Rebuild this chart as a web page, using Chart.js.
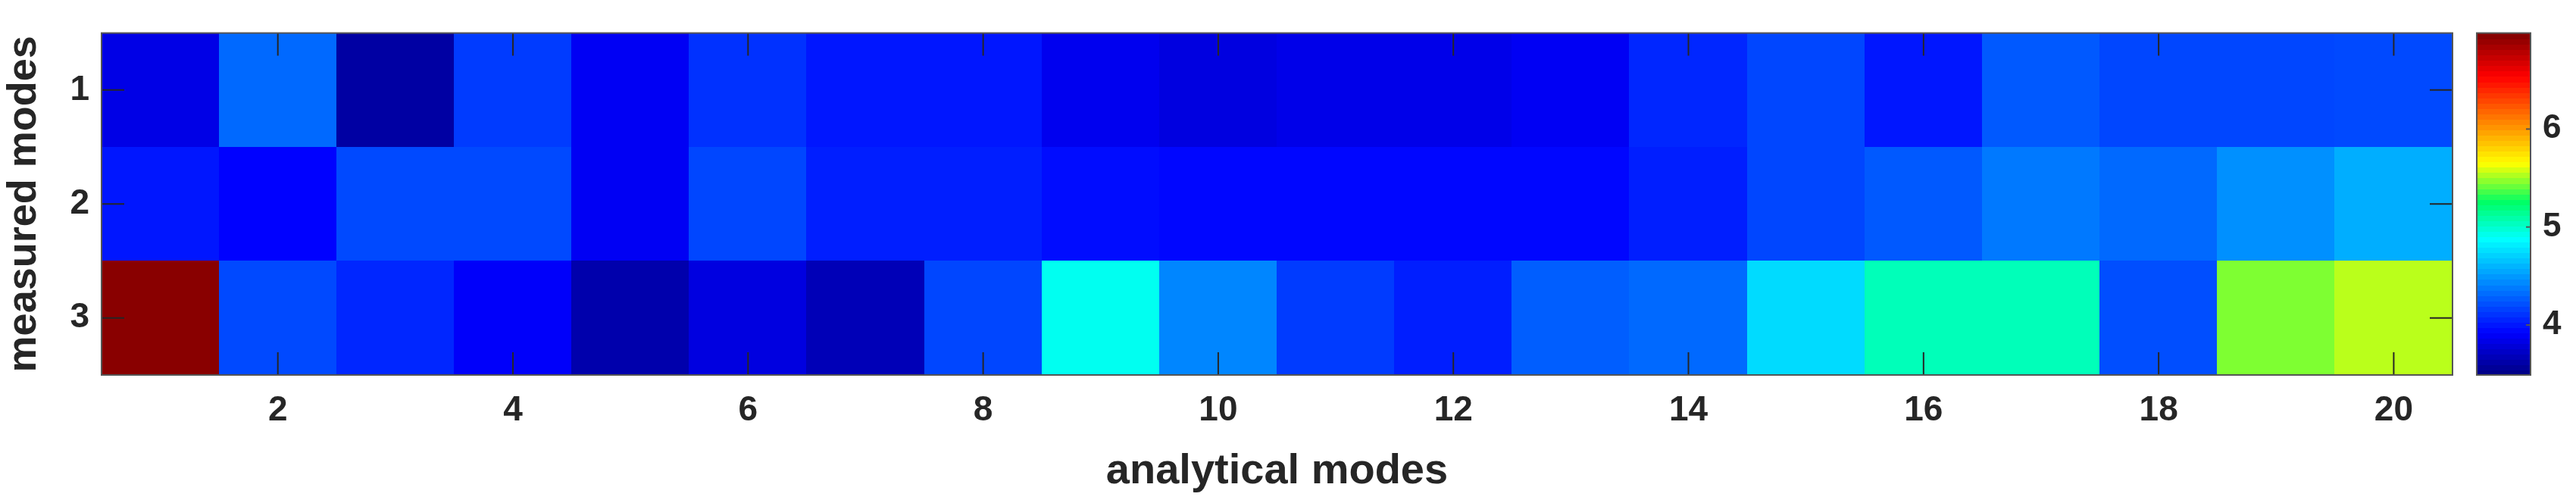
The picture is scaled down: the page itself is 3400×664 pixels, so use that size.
<!DOCTYPE html>
<html><head><meta charset="utf-8">
<script src="https://cdn.jsdelivr.net/npm/chart.js@4"></script>
<style>html,body{margin:0;padding:0;background:#fff}#w{width:3400px;height:664px}</style>
</head><body><div id="w"><canvas id="c"></canvas></div>
<script>
const analyticalModes = [1,2,3,4,5,6,7,8,9,10,11,12,13,14,15,16,17,18,19,20];
const measuredModes = [1,2,3];
const row1 = [3.84,4.32,3.61,4.15,3.89,4.11,4.01,4.01,3.87,3.82,3.85,3.85,3.89,4.07,4.19,4.01,4.26,4.19,4.19,4.20];
const row2 = [4.01,3.93,4.20,4.20,3.89,4.19,4.04,4.04,3.97,3.95,3.95,3.95,3.95,4.04,4.19,4.26,4.38,4.32,4.47,4.58];
const row3 = [6.95,4.20,4.07,3.91,3.64,3.82,3.68,4.19,4.92,4.43,4.15,4.04,4.28,4.32,4.75,5.06,5.06,4.22,5.46,5.55];
const xTicks = [2,4,6,8,10,12,14,16,18,20];
const yTicks = [1,2,3];
const cbTicks = [4,5,6];
const cMin = 3.49, cMax = 6.98;
const rows = [row1,row2,row3];

const stops=[[0,[0,0,128]],[0.125,[0,0,255]],[0.40,[0,255,255]],[0.51,[0,255,100]],[0.62,[255,255,0]],[0.875,[255,0,0]],[1,[128,0,0]]];
function jet(t){
  t=Math.max(0,Math.min(1,t));
  for(let i=1;i<stops.length;i++){
    if(t<=stops[i][0]){const [t0,c0]=stops[i-1],[t1,c1]=stops[i];const f=(t-t0)/(t1-t0);
      return `rgb(${c0.map((v,k)=>Math.round(v+(c1[k]-v)*f)).join(',')})`;}
  }
  return 'rgb(128,0,0)';
}
const cells=[];
rows.forEach((r,i)=>r.forEach((v,j)=>cells.push({x:analyticalModes[j],y:measuredModes[i],v})));

const FONT="'Liberation Sans', Arial, sans-serif";
const heat={id:'heat',
 beforeDatasetsDraw(ch){
  const {ctx,scales:{x,y},chartArea:a}=ch;
  ctx.save();
  cells.forEach(c=>{
    const x0=x.getPixelForValue(c.x-0.5),x1=x.getPixelForValue(c.x+0.5);
    const y0=y.getPixelForValue(c.y-0.5),y1=y.getPixelForValue(c.y+0.5);
    ctx.fillStyle=jet((c.v-cMin)/(cMax-cMin));
    ctx.fillRect(Math.floor(Math.min(x0,x1)),Math.floor(Math.min(y0,y1)),Math.ceil(Math.abs(x1-x0))+1,Math.ceil(Math.abs(y1-y0))+1);
  });
  ctx.strokeStyle='#262626';ctx.lineWidth=2;
  xTicks.forEach(t=>{const p=x.getPixelForValue(t);ctx.beginPath();ctx.moveTo(p,a.bottom);ctx.lineTo(p,a.bottom-30);ctx.moveTo(p,a.top);ctx.lineTo(p,a.top+30);ctx.stroke();});
  yTicks.forEach(t=>{const p=y.getPixelForValue(t);ctx.beginPath();ctx.moveTo(a.left,p);ctx.lineTo(a.left+30,p);ctx.moveTo(a.right,p);ctx.lineTo(a.right-30,p);ctx.stroke();});
  ctx.strokeStyle='#555';ctx.lineWidth=2;ctx.strokeRect(a.left,a.top,a.right-a.left,a.bottom-a.top);
  const cx0=3269,cx1=3340,cy0=a.top,cy1=a.bottom,n=64;
  for(let k=0;k<n;k++){
    ctx.fillStyle=jet((k+0.5)/n);
    const yy0=cy1-(k+1)*(cy1-cy0)/n, yy1=cy1-k*(cy1-cy0)/n;
    ctx.fillRect(cx0,Math.floor(yy0),cx1-cx0,Math.ceil(yy1-yy0)+1);
  }
  ctx.strokeStyle='#555';ctx.strokeRect(cx0,cy0,cx1-cx0,cy1-cy0);
  ctx.fillStyle='#262626';ctx.font=`bold 44px ${FONT}`;ctx.textBaseline='middle';ctx.textAlign='left';
  cbTicks.forEach(t=>{const p=cy1-(t-cMin)/(cMax-cMin)*(cy1-cy0);
    ctx.beginPath();ctx.moveTo(cx1,p);ctx.lineTo(cx1-6,p);ctx.stroke();
    ctx.fillText(String(t),cx1+16,p);});
  ctx.restore();
 }};

new Chart(document.getElementById('c'),{
 type:'scatter',
 data:{datasets:[{data:cells.map(c=>({x:c.x,y:c.y})),pointRadius:0}]},
 options:{responsive:true,maintainAspectRatio:false,animation:false,
  layout:{padding:{left:0,right:163,top:30,bottom:0}},
  plugins:{legend:{display:false},tooltip:{enabled:false}},
  scales:{
   x:{type:'linear',min:0.5,max:20.5,grid:{display:false,drawTicks:false},border:{display:false},
      afterBuildTicks(s){s.ticks=xTicks.map(v=>({value:v}));},
      afterFit(s){s.height=169;},
      ticks:{color:'#262626',font:{family:FONT,size:46,weight:'bold'},padding:20,maxRotation:0},
      title:{display:true,text:'analytical modes',color:'#262626',font:{family:FONT,size:56,weight:'bold'},padding:{top:0,bottom:8}}},
   y:{type:'linear',min:0.5,max:3.5,reverse:true,grid:{display:false,drawTicks:false},border:{display:false},
      afterBuildTicks(s){s.ticks=yTicks.map(v=>({value:v}));},
      afterFit(s){s.width=134;},
      ticks:{color:'#262626',font:{family:FONT,size:46,weight:'bold'},padding:16},
      title:{display:true,text:'measured modes',color:'#262626',font:{family:FONT,size:54,weight:'bold'},padding:{top:0,bottom:0}}}
  }},
 plugins:[heat]});
</script></body></html>
